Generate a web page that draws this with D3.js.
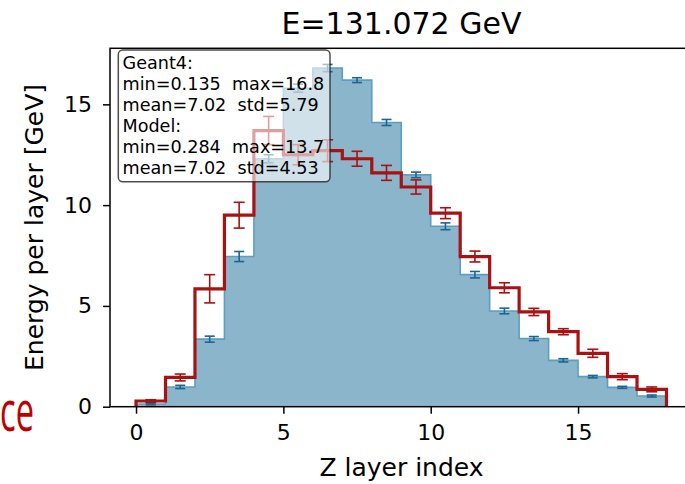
<!DOCTYPE html>
<html>
<head>
<meta charset="utf-8">
<script src="https://cdn.jsdelivr.net/npm/d3@7"></script>
<style>
  html, body { margin: 0; padding: 0; background: #fff; }
  svg { display: block; font-family: "DejaVu Sans", sans-serif; }
</style>
</head>
<body>
<svg id="chart" width="685" height="484"></svg>
<script>
// Longitudinal shower profile: energy deposited in each Z layer
const layers = [0, 1, 2, 3, 4, 5, 6, 7, 8, 9, 10, 11, 12, 13, 14, 15, 16, 17];
const geant4 = [0.135, 0.98, 3.35, 7.45, 12.3, 15.8, 16.8, 16.2, 14.1, 11.5, 8.95, 6.55, 4.75, 3.38, 2.3, 1.49, 0.96, 0.53];
const geant4Err = [0.04, 0.08, 0.15, 0.25, 0.2, 0.2, 0.18, 0.12, 0.15, 0.14, 0.17, 0.16, 0.14, 0.1, 0.08, 0.06, 0.05, 0.05];
const model = [0.284, 1.45, 5.85, 9.5, 13.7, 12.5, 12.7, 12.3, 11.6, 10.9, 9.6, 7.45, 5.9, 4.7, 3.72, 2.65, 1.49, 0.86];
const modelErr = [0.06, 0.17, 0.7, 0.64, 0.7, 0.5, 0.54, 0.37, 0.37, 0.35, 0.27, 0.27, 0.25, 0.18, 0.15, 0.2, 0.15, 0.12];
const xTicks = [0, 5, 10, 15];
const yTicks = [0, 5, 10, 15];
const titleText = "E=131.072 GeV";
const statLines = [
  "Geant4:",
  "min=0.135  max=16.8",
  "mean=7.02  std=5.79",
  "Model:",
  "min=0.284  max=13.7",
  "mean=7.02  std=4.53"
];

const svg = d3.select("#chart");
const plotLeft = 110, plotRight = 693, plotTop = 48.3, plotBottom = 406.7;

const x = d3.scaleLinear().domain([-0.9, 18.9]).range([109.5, 693]);
const y = d3.scaleLinear().domain([0, 17.78]).range([plotBottom, plotTop]);

// step points: each layer covers [i, i+1]
function stepPoints(vals) {
  const pts = layers.map((l, i) => [l, vals[i]]);
  pts.push([layers[layers.length - 1] + 1, vals[vals.length - 1]]);
  return pts;
}
function closedStep(vals) {
  const pts = stepPoints(vals);
  return [[pts[0][0], 0]].concat(pts, [[pts[pts.length - 1][0], 0]]);
}

const plot = svg.append("g");

// Geant4: filled histogram
plot.append("path")
  .datum(stepPoints(geant4))
  .attr("d", d3.area().curve(d3.curveStepAfter)
    .x(d => x(d[0])).y0(y(0)).y1(d => y(d[1])))
  .attr("fill", "#8bb5ca");
plot.append("path")
  .datum(closedStep(geant4))
  .attr("d", d3.line().curve(d3.curveStepAfter).x(d => x(d[0])).y(d => y(d[1])))
  .attr("fill", "none")
  .attr("stroke", "#5e9dc2")
  .attr("stroke-width", 1.6);

function errorBars(vals, errs, color, width, cap) {
  const g = plot.append("g").attr("stroke", color).attr("stroke-width", width).attr("fill", "none");
  layers.forEach((l, i) => {
    const cx = x(l + 0.5), y1 = y(vals[i] + errs[i]), y0 = y(vals[i] - errs[i]);
    g.append("line").attr("x1", cx).attr("x2", cx).attr("y1", y0).attr("y2", y1);
    g.append("line").attr("x1", cx - cap).attr("x2", cx + cap).attr("y1", y0).attr("y2", y0);
    g.append("line").attr("x1", cx - cap).attr("x2", cx + cap).attr("y1", y1).attr("y2", y1);
  });
}
errorBars(geant4, geant4Err, "#1b6690", 1.6, 5);

// Model: step outline
plot.append("path")
  .datum(closedStep(model))
  .attr("d", d3.line().curve(d3.curveStepAfter).x(d => x(d[0])).y(d => y(d[1])))
  .attr("fill", "none")
  .attr("stroke", "#a81212")
  .attr("stroke-width", 3.2)
  .attr("stroke-linejoin", "miter");
errorBars(model, modelErr, "#a81212", 1.6, 5.5);

// axes
const fontTick = "22px";
const yAxis = svg.append("g").attr("transform", `translate(${plotLeft},0)`)
  .call(d3.axisLeft(y).tickValues(yTicks).tickSize(7).tickPadding(11).tickFormat(d3.format("d")));
const xAxis = svg.append("g").attr("transform", `translate(0,${plotBottom})`)
  .call(d3.axisBottom(x).tickValues(xTicks).tickSize(7).tickPadding(11).tickFormat(d3.format("d")));
[xAxis, yAxis].forEach(a => {
  a.select(".domain").remove();
  a.selectAll(".tick line").attr("stroke", "#000").attr("stroke-width", 1.5);
  a.selectAll(".tick text").attr("fill", "#000").style("font-size", fontTick)
    .style("font-family", "DejaVu Sans");
});

// frame
svg.append("rect")
  .attr("x", plotLeft).attr("y", plotTop)
  .attr("width", plotRight - plotLeft).attr("height", plotBottom - plotTop)
  .attr("fill", "none").attr("stroke", "#000").attr("stroke-width", 1.5);

// statistics box
const box = svg.append("g");
box.append("rect")
  .attr("x", 118.3).attr("y", 50).attr("width", 211.7).attr("height", 131.7)
  .attr("rx", 4.5).attr("ry", 4.5)
  .attr("fill", "#fff").attr("fill-opacity", 0.6)
  .attr("stroke", "#222").attr("stroke-opacity", 0.8).attr("stroke-width", 1.5);
box.selectAll("text").data(statLines).join("text")
  .attr("x", 122.5)
  .attr("y", (d, i) => 68.8 + i * 21.1)
  .style("font-size", "17.6px")
  .style("white-space", "pre")
  .attr("fill", "#000")
  .text(d => d);

// title and axis labels
svg.append("text")
  .attr("x", (plotLeft + plotRight) / 2).attr("y", 34)
  .attr("text-anchor", "middle")
  .style("font-size", "30px")
  .attr("fill", "#000")
  .text(titleText);
svg.append("text")
  .attr("x", (plotLeft + plotRight) / 2).attr("y", 476)
  .attr("text-anchor", "middle")
  .style("font-size", "25px")
  .attr("fill", "#000")
  .text("Z layer index");
svg.append("text")
  .attr("transform", `translate(43,${(plotTop + plotBottom) / 2}) rotate(-90)`)
  .attr("text-anchor", "middle")
  .style("font-size", "25px")
  .attr("fill", "#000")
  .text("Energy per layer [GeV]");

// slide caption fragment at the left edge
svg.append("text")
  .attr("x", 0).attr("y", 430.5)
  .attr("textLength", 34).attr("lengthAdjust", "spacingAndGlyphs")
  .style("font-family", "'Open Sans', sans-serif")
  .style("font-size", "56px")
  .attr("fill", "#c00000")
  .text("ce");
</script>
</body>
</html>
